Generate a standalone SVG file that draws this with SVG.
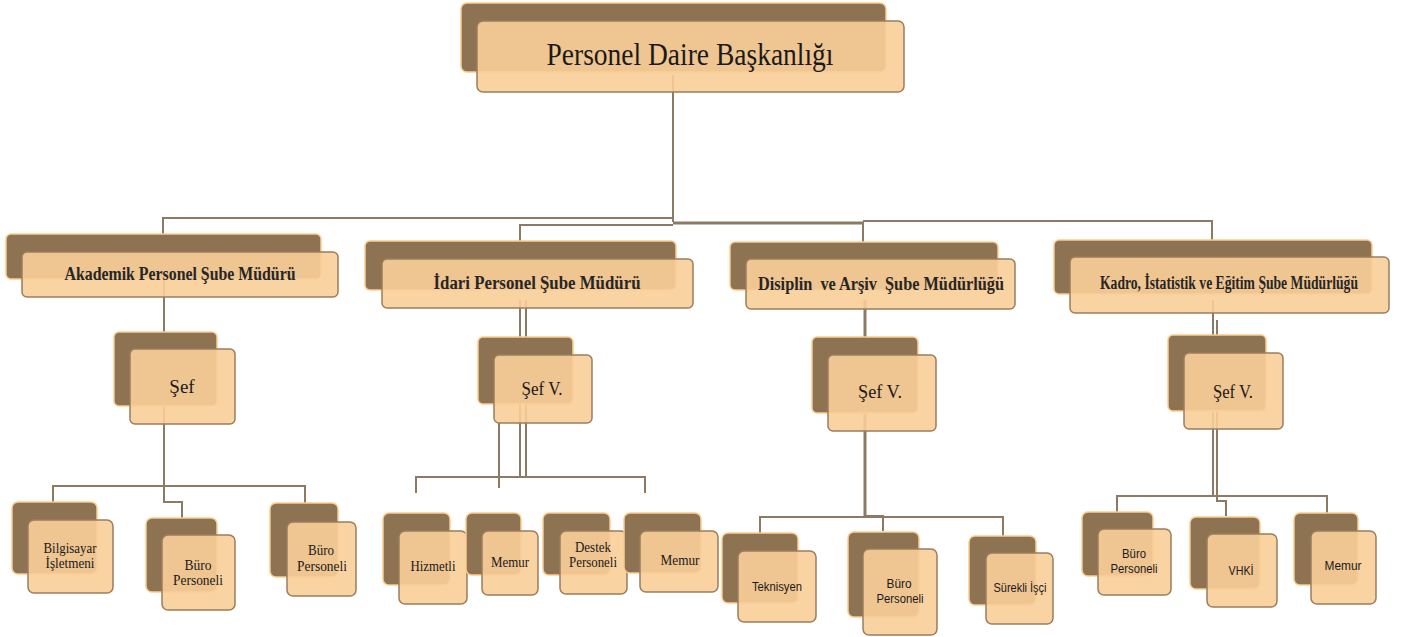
<svg xmlns="http://www.w3.org/2000/svg" width="1408" height="637" viewBox="0 0 1408 637">
<defs>
<style>
.bk{fill:#8E7352;stroke:#FBCB8E;stroke-width:1.5}
.fr{fill:#FACE98;fill-opacity:0.9;stroke:#9A7E5E;stroke-width:1.5}
.c{fill:none;stroke:#8C7A64;stroke-width:2}
.ct{fill:none;stroke:#8C7A64;stroke-width:3}
.t0{font-family:"Liberation Serif",serif;font-size:31px;fill:#1a1a1a;text-anchor:middle}
.t1{font-family:"Liberation Serif",serif;font-weight:bold;font-size:18px;fill:#262626;text-anchor:middle}
.t2{font-family:"Liberation Serif",serif;font-size:19px;fill:#1a1a1a;text-anchor:middle}
.t3{font-family:"Liberation Serif",serif;font-size:15px;fill:#1a1a1a;text-anchor:middle}
.t4{font-family:"Liberation Sans",sans-serif;font-size:12px;fill:#1a1a1a;text-anchor:middle}
</style>
</defs>
<rect width="1408" height="637" fill="#ffffff"/>
<g id="connectors">
<path class="c" d="M673,75 V222"/>
<path class="c" d="M673,218 H163 V236"/>
<path class="c" d="M673,225 H520 V242"/>
<path class="ct" d="M673,223 H863"/>
<path class="c" d="M863,222 V243 M863,221 H1212 V241"/>
<path class="c" d="M164,270 V502 H182 V518"/>
<path class="c" d="M53,502 V486 H305 V503"/>
<path class="c" d="M520,300 V478 M526,300 V478 M499,423 V488"/>
<path class="c" d="M416,493 V477 H645 V493"/>
<path class="ct" d="M865,300 V517"/>
<path class="c" d="M760,533 V517 H1003 V536 M865,516 H883 V531"/>
<path class="c" d="M1213,300 V497 M1217,320 V501 H1226 V516"/>
<path class="c" d="M1117,512 V496 H1327 V513"/>
</g>
<g id="n-root">
<rect class="bk" x="461" y="3" width="425" height="69" rx="6"/>
<rect class="fr" x="477" y="21" width="427" height="71" rx="6"/>
<text class="t0" x="690" y="65" textLength="287" lengthAdjust="spacingAndGlyphs">Personel Daire Başkanlığı</text>
</g>
<g id="n-akademik">
<rect class="bk" x="6" y="234" width="315" height="45" rx="5"/>
<rect class="fr" x="22" y="252" width="316" height="45" rx="5"/>
<text class="t1" x="180" y="280" textLength="231" lengthAdjust="spacingAndGlyphs">Akademik Personel Şube Müdürü</text>
</g>
<g id="n-idari">
<rect class="bk" x="365" y="241" width="311" height="49" rx="5"/>
<rect class="fr" x="382" y="259" width="311" height="49" rx="5"/>
<text class="t1" x="537" y="289" textLength="207" lengthAdjust="spacingAndGlyphs">İdari Personel Şube Müdürü</text>
</g>
<g id="n-disiplin">
<rect class="bk" x="730" y="242" width="268" height="48" rx="5"/>
<rect class="fr" x="746" y="259" width="269" height="50" rx="5"/>
<text class="t1" x="881" y="290" textLength="246" lengthAdjust="spacingAndGlyphs" xml:space="preserve">Disiplin  ve Arşiv  Şube Müdürlüğü</text>
</g>
<g id="n-kadro">
<rect class="bk" x="1054" y="240" width="318" height="54" rx="5"/>
<rect class="fr" x="1070" y="257" width="319" height="56" rx="5"/>
<text class="t1" x="1229" y="289" font-size="14" textLength="258" lengthAdjust="spacingAndGlyphs">Kadro, İstatistik ve Eğitim Şube Müdürlüğü</text>
</g>
<g id="n-sef1">
<rect class="bk" x="114" y="332" width="103" height="74" rx="5"/>
<rect class="fr" x="130" y="349" width="105" height="75" rx="5"/>
<text class="t2" x="182" y="393">Şef</text>
</g>
<g id="n-sef2">
<rect class="bk" x="478" y="337" width="95" height="67" rx="5"/>
<rect class="fr" x="494" y="355" width="98" height="68" rx="5"/>
<text class="t2" x="542" y="395" textLength="41" lengthAdjust="spacingAndGlyphs">Şef V.</text>
</g>
<g id="n-sef3">
<rect class="bk" x="812" y="337" width="106" height="76" rx="5"/>
<rect class="fr" x="828" y="355" width="108" height="76" rx="5"/>
<text class="t2" x="880" y="398" textLength="44" lengthAdjust="spacingAndGlyphs">Şef V.</text>
</g>
<g id="n-sef4">
<rect class="bk" x="1168" y="335" width="98" height="76" rx="5"/>
<rect class="fr" x="1184" y="353" width="99" height="76" rx="5"/>
<text class="t2" x="1233" y="398" textLength="40" lengthAdjust="spacingAndGlyphs">Şef V.</text>
</g>
<g id="n-bilgisayar">
<rect class="bk" x="12" y="502" width="85" height="72" rx="6"/>
<rect class="fr" x="28" y="520" width="85" height="73" rx="6"/>
<text class="t3" x="70" y="553" textLength="53" lengthAdjust="spacingAndGlyphs">Bilgisayar</text>
<text class="t3" x="70" y="568" textLength="49" lengthAdjust="spacingAndGlyphs">İşletmeni</text>
</g>
<g id="n-buro1">
<rect class="bk" x="146" y="518" width="71" height="74" rx="6"/>
<rect class="fr" x="162" y="535" width="73" height="75" rx="6"/>
<text class="t3" x="198" y="570" textLength="27" lengthAdjust="spacingAndGlyphs">Büro</text>
<text class="t3" x="198" y="585" textLength="50" lengthAdjust="spacingAndGlyphs">Personeli</text>
</g>
<g id="n-buro2">
<rect class="bk" x="270" y="503" width="68" height="74" rx="6"/>
<rect class="fr" x="287" y="522" width="69" height="74" rx="6"/>
<text class="t3" x="321" y="555" textLength="26" lengthAdjust="spacingAndGlyphs">Büro</text>
<text class="t3" x="322" y="571" textLength="50" lengthAdjust="spacingAndGlyphs">Personeli</text>
</g>
<g id="n-hizmetli">
<rect class="bk" x="383" y="513" width="67" height="72" rx="6"/>
<rect class="fr" x="399" y="531" width="68" height="73" rx="6"/>
<text class="t3" x="433" y="571" textLength="45" lengthAdjust="spacingAndGlyphs">Hizmetli</text>
</g>
<g id="n-memur1">
<rect class="bk" x="466" y="513" width="55" height="62" rx="6"/>
<rect class="fr" x="482" y="531" width="56" height="64" rx="6"/>
<text class="t3" x="510" y="567" textLength="38" lengthAdjust="spacingAndGlyphs">Memur</text>
</g>
<g id="n-destek">
<rect class="bk" x="543" y="513" width="67" height="62" rx="6"/>
<rect class="fr" x="560" y="531" width="67" height="63" rx="6"/>
<text class="t3" x="593" y="552" textLength="36" lengthAdjust="spacingAndGlyphs">Destek</text>
<text class="t3" x="593" y="567" textLength="48" lengthAdjust="spacingAndGlyphs">Personeli</text>
</g>
<g id="n-memur2">
<rect class="bk" x="624" y="513" width="77" height="60" rx="6"/>
<rect class="fr" x="640" y="531" width="78" height="61" rx="6"/>
<text class="t3" x="680" y="565" textLength="39" lengthAdjust="spacingAndGlyphs">Memur</text>
</g>
<g id="n-teknisyen">
<rect class="bk" x="722" y="533" width="76" height="70" rx="6"/>
<rect class="fr" x="738" y="551" width="78" height="71" rx="6"/>
<text class="t4" x="777" y="591" textLength="50" lengthAdjust="spacingAndGlyphs">Teknisyen</text>
</g>
<g id="n-buro3">
<rect class="bk" x="848" y="532" width="71" height="85" rx="6"/>
<rect class="fr" x="863" y="549" width="74" height="86" rx="6"/>
<text class="t4" x="899" y="588" textLength="25" lengthAdjust="spacingAndGlyphs">Büro</text>
<text class="t4" x="900" y="603" textLength="47" lengthAdjust="spacingAndGlyphs">Personeli</text>
</g>
<g id="n-surekli">
<rect class="bk" x="969" y="536" width="67" height="69" rx="6"/>
<rect class="fr" x="986" y="553" width="67" height="71" rx="6"/>
<text class="t4" x="1020" y="592" textLength="53" lengthAdjust="spacingAndGlyphs">Sürekli İşçi</text>
</g>
<g id="n-buro4">
<rect class="bk" x="1082" y="512" width="71" height="64" rx="6"/>
<rect class="fr" x="1098" y="529" width="73" height="66" rx="6"/>
<text class="t4" x="1134" y="558" textLength="24" lengthAdjust="spacingAndGlyphs">Büro</text>
<text class="t4" x="1134" y="573" textLength="47" lengthAdjust="spacingAndGlyphs">Personeli</text>
</g>
<g id="n-vhki">
<rect class="bk" x="1190" y="517" width="70" height="72" rx="6"/>
<rect class="fr" x="1207" y="534" width="70" height="73" rx="6"/>
<text class="t4" x="1241" y="575" textLength="25" lengthAdjust="spacingAndGlyphs">VHKİ</text>
</g>
<g id="n-memur3">
<rect class="bk" x="1294" y="513" width="64" height="72" rx="6"/>
<rect class="fr" x="1311" y="531" width="65" height="73" rx="6"/>
<text class="t4" x="1343" y="570" textLength="37" lengthAdjust="spacingAndGlyphs">Memur</text>
</g>
</svg>
